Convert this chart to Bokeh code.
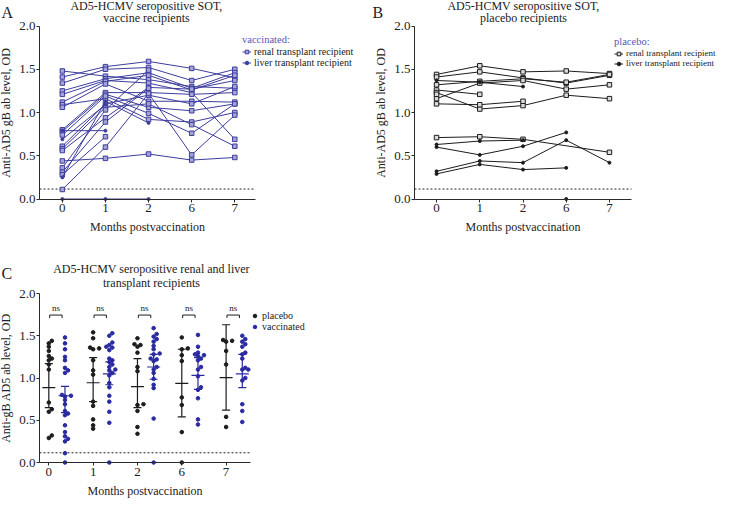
import numpy as np
from bokeh.plotting import figure
from bokeh.models import (Range1d, FixedTicker, NumeralTickFormatter, Label,
                          Legend, LegendItem, ColumnDataSource, Whisker, TeeHead)
from bokeh.layouts import column, row
from bokeh.embed import file_html
from bokeh.resources import INLINE
from bokeh.core.properties import value

N = None
months = ["0", "1", "2", "6", "7"]

# Anti-AD5 gB OD per subject at months 0, 1, 2, 6, 7 (None = not measured)
vacc_renal = [
    [1.48, 1.42, 1.38, 1.30, 1.28],
    [1.41, 1.53, 1.59, 1.51, 1.40],
    [1.34, 1.50, 1.52, 1.37, 1.50],
    [1.25, 1.39, 1.46, 1.28, 1.46],
    [1.21, 1.37, 1.34, 1.23, 0.69],
    [1.12, 1.36, 1.43, 1.26, 1.43],
    [1.09, 1.16, 0.92, 0.89, 1.00],
    [1.06, 1.33, 1.13, 1.13, 1.12],
    [0.80, 1.23, 1.23, 1.21, 1.23],
    [0.78, 1.21, 1.06, 1.02, 1.10],
    [0.74, 1.19, 0.99, 0.76, 1.10],
    [0.61, 1.10, 1.20, 1.10, 1.30],
    [0.58, 1.06, 1.10, 0.86, 0.61],
    [0.56, 0.94, 1.29, 1.27, 1.37],
    [0.36, 1.03, 1.49, N, N],
    [0.31, 0.89, 1.28, N, N],
    [0.28, 0.72, N, N, N],
    [0.11, 0.60, 1.22, 0.51, 0.97],
    [0.44, 0.47, 0.52, 0.45, 0.48],
]
vacc_liver = [
    [0.25, 1.13, 0.88, N, N],
    [0.79, 0.79, N, N, N],
    [0.69, 1.09, N, N, N],
    [0.00, 0.00, 0.00, N, N],
]
plac_renal = [
    [1.44, 1.54, 1.47, 1.48, 1.45],
    [1.41, 1.47, 1.40, 1.34, 1.43],
    [1.32, 1.36, 1.39, 1.35, 1.44],
    [1.26, 1.21, N, N, N],
    [1.16, 1.34, 1.37, 1.27, 1.32],
    [1.23, 1.04, 1.08, 1.20, 1.16],
    [1.21, N, N, N, N],
    [1.10, 1.09, 1.13, N, N],
    [0.71, 0.72, 0.69, N, 0.54],
]
plac_liver = [
    [1.37, 1.35, 1.30, N, N],
    [0.63, 0.67, 0.68, N, N],
    [0.60, 0.51, 0.61, 0.77, N],
    [0.32, 0.44, 0.42, 0.68, 0.42],
    [0.29, 0.40, 0.34, 0.36, N],
    [N, N, N, 0.00, N],
]
cutoff = 0.115

# Panel C summary bars (centre line and error-bar ends), months 0, 1, 2, 6, 7
plac_mean = [0.885, 0.944, 0.897, 0.937, 1.004]
plac_lo = [0.65, 0.72, 0.65, 0.54, 0.62]
plac_hi = [1.17, 1.24, 1.23, 1.34, 1.63]
vacc_mean = [0.79, 1.05, 1.13, 1.03, 1.05]
vacc_lo = [0.59, 0.92, 0.985, 0.865, 0.885]
vacc_hi = [0.90, 1.19, 1.28, 1.24, 1.28]
ns_text = ["ns", "ns", "ns", "ns", "ns"]

SERIF = "Liberation Serif"
BLUE = "#3d3d9e"
BLUE_FILL = "#a4a4d6"
BLACK = "#1c1c1c"
GREY_FILL = "#dadada"
AXIS = "#2a2a2a"
TITLE_BLUE = "#5656b4"
TXT = "#222222"
CBLUE = "#2a2aa0"


class Panel:
    """Figure whose frame fills the canvas; axes are pinned at the data origin."""

    def __init__(self, width, height, ax_left, ax_right, x0, x1, ax_top, ax_bottom, ylabel):
        self.sx = (ax_right - ax_left) / (x1 - x0)
        self.sy = (ax_bottom - ax_top) / 2.0
        self.xs = x0 - ax_left / self.sx
        self.ye = 2.0 + ax_top / self.sy
        self.w, self.h = width, height
        p = figure(width=width, height=height,
                   x_range=Range1d(self.xs, x0 + (width - ax_left) / self.sx),
                   y_range=Range1d(-(height - ax_bottom) / self.sy, self.ye),
                   output_backend="svg", toolbar_location=None,
                   min_border_left=0, min_border_right=0, min_border_top=0, min_border_bottom=0)
        p.xaxis.ticker = FixedTicker(ticks=list(range(len(months))))
        p.xaxis.major_label_overrides = {i: m for i, m in enumerate(months)}
        p.yaxis.ticker = FixedTicker(ticks=[0, 0.5, 1.0, 1.5, 2.0])
        p.yaxis.formatter = NumeralTickFormatter(format="0.0")
        p.xaxis.fixed_location = 0
        p.xaxis.bounds = (x0, x1)
        p.yaxis.fixed_location = x0
        p.yaxis.bounds = (0, 2.0)
        for ax in (p.xaxis, p.yaxis):
            ax.major_label_text_font = SERIF
            ax.major_label_text_font_size = "13px"
            ax.major_label_text_color = TXT
            ax.axis_label_text_font = SERIF
            ax.axis_label_text_font_size = "12px"
            ax.axis_label_text_font_style = "normal"
            ax.axis_label_text_color = TXT
            ax.minor_tick_line_color = None
            ax.major_tick_in = 0
            ax.major_tick_out = 3
            ax.axis_line_color = AXIS
            ax.major_tick_line_color = AXIS
            ax.major_label_standoff = 1
            ax.axis_label_standoff = 3
        p.xaxis.axis_label_standoff = 4
        p.xaxis.major_label_standoff = 2
        p.xaxis.axis_label = "Months postvaccination"
        p.yaxis.axis_label = ylabel
        p.grid.visible = False
        p.outline_line_color = None
        p.segment(x0=[x0], y0=[cutoff], x1=[x1], y1=[cutoff], line_color="#222222",
                  line_dash="2 2", line_width=1)
        self.p = p

    def fx(self, px):
        return self.xs + px / self.sx

    def fy(self, py):
        return self.ye - py / self.sy

    def label(self, text, px, py, size, align="center", baseline="middle"):
        self.p.add_layout(Label(x=self.fx(px), y=self.fy(py), text=text,
                                text_font=SERIF, text_font_size=size, text_align=align,
                                text_baseline=baseline, text_color=TXT))

    def legend(self, items, px, py_bottom, title=None, size="10px"):
        lg = Legend(items=items, location=(px, self.h - py_bottom),
                    background_fill_alpha=0, border_line_color=None,
                    padding=0, margin=0, spacing=0, label_standoff=3,
                    glyph_width=9, glyph_height=9, label_height=9,
                    label_text_font=SERIF, label_text_font_size=size,
                    label_text_color=TXT, label_text_line_height=1.0)
        if title:
            lg.title = title
            lg.title_text_font = SERIF
            lg.title_text_font_size = "10.5px"
            lg.title_text_font_style = "normal"
            lg.title_text_color = TITLE_BLUE
            lg.title_standoff = 1
        self.p.add_layout(lg)


def draw_group(p, rows, color, marker, size, fill):
    xs, ys, mx, my = [], [], [], []
    for r in rows:
        idx = [i for i, v in enumerate(r) if v is not None]
        if len(idx) > 1:
            xs.append(idx)
            ys.append([r[i] for i in idx])
        mx += idx
        my += [r[i] for i in idx]
    ml = p.multi_line(xs=xs, ys=ys, line_color=color, line_width=1)
    sc = p.scatter(x=mx, y=my, marker=marker, size=size, line_color=color,
                   fill_color=fill, line_width=1)
    return ml, sc


# ---------------- Panel A ----------------
A = Panel(362, 240, 39, 255, -0.53, 4.48, 25.5, 198.5, "Anti-AD5 gB ab level, OD")
mlr, scr = draw_group(A.p, vacc_renal, BLUE, "square", 4.5, BLUE_FILL)
mll, scl = draw_group(A.p, vacc_liver, BLUE, "circle", 3, BLUE)
A.legend([LegendItem(label="renal transplant recipient", renderers=[mlr, scr]),
          LegendItem(label="liver transplant recipient", renderers=[mll, scl])],
         242, 68, title="vaccinated:")
A.label("AD5-HCMV seropositive SOT,", 146, 5.5, "12px")
A.label("vaccine recipients", 146, 17.5, "12px")
A.label("A", 1, 12, "16px", align="left", baseline="alphabetic")

# ---------------- Panel B ----------------
B = Panel(357, 240, 52, 269, -0.51, 4.51, 25.5, 198.5, "Anti-AD5 gB ab level, OD")
mlr, scr = draw_group(B.p, plac_renal, BLACK, "square", 4.5, GREY_FILL)
mll, scl = draw_group(B.p, plac_liver, BLACK, "circle", 3, BLACK)
B.legend([LegendItem(label="renal transplant recipient", renderers=[mlr, scr]),
          LegendItem(label="liver transplant recipient", renderers=[mll, scl])],
         252, 68, title="placebo:", size="9px")
B.label("AD5-HCMV seropositive SOT,", 161, 5.5, "12px")
B.label("placebo recipients", 161, 17.5, "12px")
B.label("B", 10, 12, "16px", align="left", baseline="alphabetic")

# ---------------- Panel C ----------------
C = Panel(362, 259, 39, 250, -0.21, 4.55, 53, 222, "Anti-gB AD5 ab level, OD")
pC = C.p
pC.xaxis.axis_label_standoff = 5
DODGE = 0.365


def swarm(vals, step=3.0, mind=3.3):
    vals = np.asarray(vals, dtype=float)
    order = np.argsort(vals, kind="stable")
    placed = []
    offs = np.zeros(len(vals))
    for i in order:
        y = vals[i] * C.sy
        k = 0
        while True:
            c = 0.0 if k == 0 else step * ((k + 1) // 2) * (1 if k % 2 else -1)
            if all((c - px) ** 2 + (y - py) ** 2 >= mind ** 2 for px, py in placed):
                break
            k += 1
        placed.append((c, y))
        offs[i] = c / C.sx
    return offs


def column_points(rows, shift):
    xs, ys = [], []
    for t in range(len(months)):
        vals = [r[t] for r in rows if r[t] is not None]
        offs = swarm(vals)
        xs += list(t + shift + offs)
        ys += vals
    return xs, ys


px_, py_ = column_points(plac_renal + plac_liver, 0.0)
vx_, vy_ = column_points(vacc_renal + vacc_liver, DODGE)
sp = pC.scatter(px_, py_, marker="circle", size=3.6, color=BLACK)
sv = pC.scatter(vx_, vy_, marker="circle", size=3.6, color=CBLUE)

tpos = list(range(len(months)))
for xs0, mean, lo, hi, col in [
    ([t for t in tpos], plac_mean, plac_lo, plac_hi, BLACK),
    ([t + DODGE for t in tpos], vacc_mean, vacc_lo, vacc_hi, CBLUE),
]:
    src = ColumnDataSource(dict(x=xs0, mean=mean, lo=lo, hi=hi))
    pC.add_layout(Whisker(source=src, base="x", upper="hi", lower="lo", line_color=col, line_width=1.2,
                          upper_head=TeeHead(size=8, line_color=col, line_width=1.2),
                          lower_head=TeeHead(size=8, line_color=col, line_width=1.2)))
    pC.scatter("x", "mean", source=src, marker="dash", size=13, line_color=col, line_width=1.2)

# "ns" comparison brackets
bx0 = [t + 0.02 for t in tpos]
bx1 = [t + 0.30 for t in tpos]
pC.segment(x0=bx0, y0=[1.745] * 5, x1=bx1, y1=[1.745] * 5, line_color=BLACK, line_width=1)
pC.segment(x0=bx0, y0=[1.745] * 5, x1=bx0, y1=[1.71] * 5, line_color=BLACK, line_width=1)
pC.segment(x0=bx1, y0=[1.745] * 5, x1=bx1, y1=[1.71] * 5, line_color=BLACK, line_width=1)
pC.text(x=[t + 0.16 for t in tpos], y=[1.765] * 5, text=ns_text, text_font=value(SERIF),
        text_font_size="9px", text_align="center", text_baseline="bottom", text_color=TXT)

C.legend([LegendItem(label="placebo", renderers=[sp]),
          LegendItem(label="vaccinated", renderers=[sv])], 250, 92)
C.label("AD5-HCMV seropositive renal and liver", 151, 28, "12px")
C.label("transplant recipients", 151, 42.5, "12px")
C.label("C", 1, 33, "16px", align="left", baseline="alphabetic")

layout = column(row(A.p, B.p), C.p)
open("out.html", "w").write(file_html(layout, INLINE))
